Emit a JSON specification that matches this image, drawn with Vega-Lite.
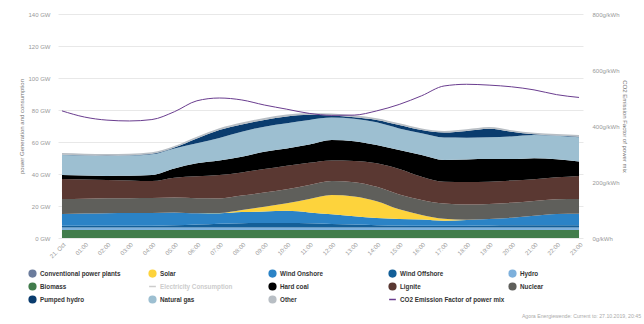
{
  "$schema": "https://vega.github.io/schema/vega-lite/v6.json",
  "width": 525,
  "height": 224,
  "autosize": {"type": "none"},
  "padding": {"left": 58, "top": 14, "right": 61, "bottom": 86},
  "config": {"font": "Liberation Sans", "view": {"stroke": null}, "axisX": {"labelOverlap": false, "labelBound": false, "labelFlush": false}},
  "title": {"text": "Agora Energiewende: Current to: 27.10.2019, 20:45", "orient": "bottom", "anchor": "end", "frame": "bounds", "fontSize": 5.2, "fontWeight": "normal", "color": "#aaaaaa", "offset": 8, "dx": 14},
  "datasets": {
    "rank": [
      {"s": "Biomass", "k": 1}, {"s": "Hydro", "k": 2}, {"s": "Wind Offshore", "k": 3}, {"s": "Wind Onshore", "k": 4},
      {"s": "Solar", "k": 5}, {"s": "Nuclear", "k": 6}, {"s": "Lignite", "k": 7}, {"s": "Hard coal", "k": 8},
      {"s": "Natural gas", "k": 9}, {"s": "Pumped hydro", "k": 10}, {"s": "Other", "k": 11}
    ],
    "co2": [
      {"h": 0, "co2": 454}, {"h": 1, "co2": 432}, {"h": 2, "co2": 421}, {"h": 3, "co2": 418}, {"h": 4, "co2": 423}, {"h": 5, "co2": 451},
      {"h": 6, "co2": 490}, {"h": 7, "co2": 500}, {"h": 8, "co2": 493}, {"h": 9, "co2": 475}, {"h": 10, "co2": 460}, {"h": 11, "co2": 445},
      {"h": 12, "co2": 438}, {"h": 13, "co2": 439}, {"h": 14, "co2": 454}, {"h": 15, "co2": 477}, {"h": 16, "co2": 508}, {"h": 17, "co2": 543},
      {"h": 18, "co2": 549}, {"h": 19, "co2": 546}, {"h": 20, "co2": 540}, {"h": 21, "co2": 529}, {"h": 22, "co2": 512}, {"h": 23, "co2": 502}
    ],
    "gen": [
      {"h":0,"s":"Biomass","v":5.0},{"h":1,"s":"Biomass","v":5.0},{"h":2,"s":"Biomass","v":5.0},{"h":3,"s":"Biomass","v":5.0},{"h":4,"s":"Biomass","v":5.0},{"h":5,"s":"Biomass","v":5.0},{"h":6,"s":"Biomass","v":5.0},{"h":7,"s":"Biomass","v":5.0},{"h":8,"s":"Biomass","v":5.0},{"h":9,"s":"Biomass","v":5.0},{"h":10,"s":"Biomass","v":5.0},{"h":11,"s":"Biomass","v":5.0},{"h":12,"s":"Biomass","v":5.0},{"h":13,"s":"Biomass","v":5.0},{"h":14,"s":"Biomass","v":5.0},{"h":15,"s":"Biomass","v":5.0},{"h":16,"s":"Biomass","v":5.0},{"h":17,"s":"Biomass","v":5.0},{"h":18,"s":"Biomass","v":5.0},{"h":19,"s":"Biomass","v":5.0},{"h":20,"s":"Biomass","v":5.0},{"h":21,"s":"Biomass","v":5.0},{"h":22,"s":"Biomass","v":5.0},{"h":23,"s":"Biomass","v":5.0},
      {"h":0,"s":"Hydro","v":1.6},{"h":1,"s":"Hydro","v":1.6},{"h":2,"s":"Hydro","v":1.6},{"h":3,"s":"Hydro","v":1.6},{"h":4,"s":"Hydro","v":1.6},{"h":5,"s":"Hydro","v":1.6},{"h":6,"s":"Hydro","v":1.6},{"h":7,"s":"Hydro","v":1.6},{"h":8,"s":"Hydro","v":1.6},{"h":9,"s":"Hydro","v":1.6},{"h":10,"s":"Hydro","v":1.6},{"h":11,"s":"Hydro","v":1.6},{"h":12,"s":"Hydro","v":1.6},{"h":13,"s":"Hydro","v":1.6},{"h":14,"s":"Hydro","v":1.6},{"h":15,"s":"Hydro","v":1.6},{"h":16,"s":"Hydro","v":1.6},{"h":17,"s":"Hydro","v":1.6},{"h":18,"s":"Hydro","v":1.6},{"h":19,"s":"Hydro","v":1.6},{"h":20,"s":"Hydro","v":1.6},{"h":21,"s":"Hydro","v":1.6},{"h":22,"s":"Hydro","v":1.6},{"h":23,"s":"Hydro","v":1.6},
      {"h":0,"s":"Wind Offshore","v":1.0},{"h":1,"s":"Wind Offshore","v":1.0},{"h":2,"s":"Wind Offshore","v":1.0},{"h":3,"s":"Wind Offshore","v":1.0},{"h":4,"s":"Wind Offshore","v":1.1},{"h":5,"s":"Wind Offshore","v":1.3},{"h":6,"s":"Wind Offshore","v":1.8},{"h":7,"s":"Wind Offshore","v":2.3},{"h":8,"s":"Wind Offshore","v":2.6},{"h":9,"s":"Wind Offshore","v":2.8},{"h":10,"s":"Wind Offshore","v":2.8},{"h":11,"s":"Wind Offshore","v":2.6},{"h":12,"s":"Wind Offshore","v":2.2},{"h":13,"s":"Wind Offshore","v":1.8},{"h":14,"s":"Wind Offshore","v":1.4},{"h":15,"s":"Wind Offshore","v":1.2},{"h":16,"s":"Wind Offshore","v":1.0},{"h":17,"s":"Wind Offshore","v":1.0},{"h":18,"s":"Wind Offshore","v":1.1},{"h":19,"s":"Wind Offshore","v":1.2},{"h":20,"s":"Wind Offshore","v":1.3},{"h":21,"s":"Wind Offshore","v":1.3},{"h":22,"s":"Wind Offshore","v":1.3},{"h":23,"s":"Wind Offshore","v":1.3},
      {"h":0,"s":"Wind Onshore","v":7.4},{"h":1,"s":"Wind Onshore","v":7.7},{"h":2,"s":"Wind Onshore","v":7.9},{"h":3,"s":"Wind Onshore","v":8.0},{"h":4,"s":"Wind Onshore","v":8.0},{"h":5,"s":"Wind Onshore","v":8.1},{"h":6,"s":"Wind Onshore","v":7.1},{"h":7,"s":"Wind Onshore","v":6.6},{"h":8,"s":"Wind Onshore","v":7.0},{"h":9,"s":"Wind Onshore","v":7.2},{"h":10,"s":"Wind Onshore","v":7.6},{"h":11,"s":"Wind Onshore","v":6.8},{"h":12,"s":"Wind Onshore","v":6.0},{"h":13,"s":"Wind Onshore","v":5.2},{"h":14,"s":"Wind Onshore","v":4.5},{"h":15,"s":"Wind Onshore","v":4.1},{"h":16,"s":"Wind Onshore","v":3.9},{"h":17,"s":"Wind Onshore","v":3.2},{"h":18,"s":"Wind Onshore","v":3.5},{"h":19,"s":"Wind Onshore","v":4.1},{"h":20,"s":"Wind Onshore","v":4.7},{"h":21,"s":"Wind Onshore","v":6.0},{"h":22,"s":"Wind Onshore","v":7.1},{"h":23,"s":"Wind Onshore","v":7.3},
      {"h":0,"s":"Solar","v":0},{"h":1,"s":"Solar","v":0},{"h":2,"s":"Solar","v":0},{"h":3,"s":"Solar","v":0},{"h":4,"s":"Solar","v":0},{"h":5,"s":"Solar","v":0},{"h":6,"s":"Solar","v":0},{"h":7,"s":"Solar","v":0.1},{"h":8,"s":"Solar","v":1.3},{"h":9,"s":"Solar","v":2.9},{"h":10,"s":"Solar","v":4.7},{"h":11,"s":"Solar","v":8.4},{"h":12,"s":"Solar","v":12.1},{"h":13,"s":"Solar","v":12.4},{"h":14,"s":"Solar","v":10.5},{"h":15,"s":"Solar","v":6.0},{"h":16,"s":"Solar","v":2.9},{"h":17,"s":"Solar","v":1.2},{"h":18,"s":"Solar","v":0.2},{"h":19,"s":"Solar","v":0},{"h":20,"s":"Solar","v":0},{"h":21,"s":"Solar","v":0},{"h":22,"s":"Solar","v":0},{"h":23,"s":"Solar","v":0},
      {"h":0,"s":"Nuclear","v":9.3},{"h":1,"s":"Nuclear","v":9.3},{"h":2,"s":"Nuclear","v":9.3},{"h":3,"s":"Nuclear","v":9.3},{"h":4,"s":"Nuclear","v":9.3},{"h":5,"s":"Nuclear","v":9.3},{"h":6,"s":"Nuclear","v":9.3},{"h":7,"s":"Nuclear","v":9.1},{"h":8,"s":"Nuclear","v":9.0},{"h":9,"s":"Nuclear","v":8.9},{"h":10,"s":"Nuclear","v":8.8},{"h":11,"s":"Nuclear","v":8.8},{"h":12,"s":"Nuclear","v":8.8},{"h":13,"s":"Nuclear","v":8.9},{"h":14,"s":"Nuclear","v":9.0},{"h":15,"s":"Nuclear","v":9.3},{"h":16,"s":"Nuclear","v":9.4},{"h":17,"s":"Nuclear","v":9.5},{"h":18,"s":"Nuclear","v":9.5},{"h":19,"s":"Nuclear","v":9.4},{"h":20,"s":"Nuclear","v":9.4},{"h":21,"s":"Nuclear","v":9.3},{"h":22,"s":"Nuclear","v":9.2},{"h":23,"s":"Nuclear","v":9.2},
      {"h":0,"s":"Lignite","v":12.6},{"h":1,"s":"Lignite","v":12.0},{"h":2,"s":"Lignite","v":11.5},{"h":3,"s":"Lignite","v":11.1},{"h":4,"s":"Lignite","v":10.6},{"h":5,"s":"Lignite","v":12.4},{"h":6,"s":"Lignite","v":13.8},{"h":7,"s":"Lignite","v":14.7},{"h":8,"s":"Lignite","v":14.5},{"h":9,"s":"Lignite","v":14.7},{"h":10,"s":"Lignite","v":14.7},{"h":11,"s":"Lignite","v":13.8},{"h":12,"s":"Lignite","v":12.8},{"h":13,"s":"Lignite","v":13.3},{"h":14,"s":"Lignite","v":14.7},{"h":15,"s":"Lignite","v":15.9},{"h":16,"s":"Lignite","v":14.5},{"h":17,"s":"Lignite","v":13.7},{"h":18,"s":"Lignite","v":14.1},{"h":19,"s":"Lignite","v":13.9},{"h":20,"s":"Lignite","v":13.9},{"h":21,"s":"Lignite","v":13.5},{"h":22,"s":"Lignite","v":13.7},{"h":23,"s":"Lignite","v":14.4},
      {"h":0,"s":"Hard coal","v":2.5},{"h":1,"s":"Hard coal","v":2.4},{"h":2,"s":"Hard coal","v":2.5},{"h":3,"s":"Hard coal","v":2.9},{"h":4,"s":"Hard coal","v":3.8},{"h":5,"s":"Hard coal","v":5.8},{"h":6,"s":"Hard coal","v":8.1},{"h":7,"s":"Hard coal","v":9.0},{"h":8,"s":"Hard coal","v":9.8},{"h":9,"s":"Hard coal","v":10.8},{"h":10,"s":"Hard coal","v":10.8},{"h":11,"s":"Hard coal","v":11.5},{"h":12,"s":"Hard coal","v":12.8},{"h":13,"s":"Hard coal","v":12.3},{"h":14,"s":"Hard coal","v":11.4},{"h":15,"s":"Hard coal","v":11.9},{"h":16,"s":"Hard coal","v":13.6},{"h":17,"s":"Hard coal","v":13.6},{"h":18,"s":"Hard coal","v":14.1},{"h":19,"s":"Hard coal","v":14.1},{"h":20,"s":"Hard coal","v":13.4},{"h":21,"s":"Hard coal","v":13.1},{"h":22,"s":"Hard coal","v":11.3},{"h":23,"s":"Hard coal","v":9.0},
      {"h":0,"s":"Natural gas","v":12.5},{"h":1,"s":"Natural gas","v":12.5},{"h":2,"s":"Natural gas","v":12.5},{"h":3,"s":"Natural gas","v":12.6},{"h":4,"s":"Natural gas","v":12.9},{"h":5,"s":"Natural gas","v":12.5},{"h":6,"s":"Natural gas","v":12.5},{"h":7,"s":"Natural gas","v":14.1},{"h":8,"s":"Natural gas","v":15.6},{"h":9,"s":"Natural gas","v":15.7},{"h":10,"s":"Natural gas","v":15.7},{"h":11,"s":"Natural gas","v":15.3},{"h":12,"s":"Natural gas","v":14.0},{"h":13,"s":"Natural gas","v":14.1},{"h":14,"s":"Natural gas","v":14.2},{"h":15,"s":"Natural gas","v":13.5},{"h":16,"s":"Natural gas","v":13.5},{"h":17,"s":"Natural gas","v":14.0},{"h":18,"s":"Natural gas","v":13.6},{"h":19,"s":"Natural gas","v":13.7},{"h":20,"s":"Natural gas","v":14.2},{"h":21,"s":"Natural gas","v":14.6},{"h":22,"s":"Natural gas","v":14.7},{"h":23,"s":"Natural gas","v":15.2},
      {"h":0,"s":"Pumped hydro","v":0.2},{"h":1,"s":"Pumped hydro","v":0.2},{"h":2,"s":"Pumped hydro","v":0.2},{"h":3,"s":"Pumped hydro","v":0.2},{"h":4,"s":"Pumped hydro","v":0.3},{"h":5,"s":"Pumped hydro","v":0.5},{"h":6,"s":"Pumped hydro","v":3.0},{"h":7,"s":"Pumped hydro","v":5.0},{"h":8,"s":"Pumped hydro","v":4.6},{"h":9,"s":"Pumped hydro","v":4.2},{"h":10,"s":"Pumped hydro","v":4.3},{"h":11,"s":"Pumped hydro","v":3.2},{"h":12,"s":"Pumped hydro","v":1.3},{"h":13,"s":"Pumped hydro","v":0.9},{"h":14,"s":"Pumped hydro","v":1.5},{"h":15,"s":"Pumped hydro","v":2.1},{"h":16,"s":"Pumped hydro","v":2.1},{"h":17,"s":"Pumped hydro","v":3.1},{"h":18,"s":"Pumped hydro","v":4.2},{"h":19,"s":"Pumped hydro","v":5.3},{"h":20,"s":"Pumped hydro","v":2.9},{"h":21,"s":"Pumped hydro","v":0.4},{"h":22,"s":"Pumped hydro","v":0.1},{"h":23,"s":"Pumped hydro","v":0.3},
      {"h":0,"s":"Other","v":1.0},{"h":1,"s":"Other","v":1.0},{"h":2,"s":"Other","v":1.0},{"h":3,"s":"Other","v":1.0},{"h":4,"s":"Other","v":1.0},{"h":5,"s":"Other","v":1.0},{"h":6,"s":"Other","v":1.1},{"h":7,"s":"Other","v":1.1},{"h":8,"s":"Other","v":1.2},{"h":9,"s":"Other","v":1.2},{"h":10,"s":"Other","v":1.2},{"h":11,"s":"Other","v":1.2},{"h":12,"s":"Other","v":1.2},{"h":13,"s":"Other","v":1.2},{"h":14,"s":"Other","v":1.1},{"h":15,"s":"Other","v":1.1},{"h":16,"s":"Other","v":1.0},{"h":17,"s":"Other","v":1.0},{"h":18,"s":"Other","v":1.0},{"h":19,"s":"Other","v":1.0},{"h":20,"s":"Other","v":1.0},{"h":21,"s":"Other","v":1.0},{"h":22,"s":"Other","v":1.0},{"h":23,"s":"Other","v":1.0}
    ]
  },
  "layer": [
    {
      "data": {"name": "gen"},
      "transform": [{"lookup": "s", "from": {"data": {"name": "rank"}, "key": "s", "fields": ["k"]}}],
      "mark": {"type": "area", "interpolate": "monotone"},
      "encoding": {
        "x": {
          "field": "h", "type": "quantitative",
          "scale": {"domain": [-0.177, 23.177], "nice": false, "zero": false},
          "axis": {
            "values": [0,1,2,3,4,5,6,7,8,9,10,11,12,13,14,15,16,17,18,19,20,21,22,23],
            "labelExpr": "datum.value === 0 ? '21. Oct' : (datum.value < 10 ? '0' + datum.value : '' + datum.value) + ':00'",
            "labelAngle": -45, "labelFontSize": 6, "labelColor": "#999999", "labelPadding": 3, "labelOverlap": false,
            "grid": false, "domain": false, "ticks": false, "title": null
          }
        },
        "y": {
          "field": "v", "type": "quantitative", "stack": "zero",
          "scale": {"domain": [0, 140], "nice": false},
          "axis": {
            "values": [0,20,40,60,80,100,120,140],
            "labelExpr": "datum.value + ' GW'",
            "grid": true, "gridColor": "#e8e8e8", "domain": false, "ticks": false,
            "labelFontSize": 6, "labelColor": "#999999", "labelPadding": 8,
            "title": "power Generation and consumption", "titleFontSize": 6, "titleFontWeight": "normal", "titleColor": "#777777", "titlePadding": 3
          }
        },
        "color": {
          "field": "s", "type": "nominal",
          "scale": {
            "domain": ["Conventional power plants","Solar","Wind Onshore","Wind Offshore","Hydro","Biomass","Electricity Consumption","Hard coal","Lignite","Nuclear","Pumped hydro","Natural gas","Other","CO2 Emission Factor of power mix"],
            "range": ["#6b7c9c","#fdd33c","#2b83c6","#135f98","#7db0dc","#427c4c","#cccccc","#000000","#5a3832","#5f5f5b","#0a3c6e","#9dbfd1","#b8bec4","#6a3d8f"]
          },
          "legend": {
            "title": null, "orient": "none", "legendX": -30, "legendY": 255, "direction": "horizontal",
            "columns": 5, "gridAlign": "all", "columnPadding": 1, "rowPadding": 0, "padding": 0,
            "symbolSize": 45, "symbolType": "circle",
            "labelFontSize": 6.3, "labelFontWeight": "bold", "labelColor": "#333333", "labelOffset": 3, "labelLimit": 200,
            "encode": {
              "symbols": {"update": {
                "shape": [{"test": "datum.value === 'CO2 Emission Factor of power mix' || datum.value === 'Electricity Consumption'", "value": "stroke"}, {"value": "circle"}],
                "fill": [{"test": "datum.value === 'CO2 Emission Factor of power mix' || datum.value === 'Electricity Consumption'", "value": "transparent"}, {"scale": "color", "field": "value"}],
                "stroke": [{"test": "datum.value === 'CO2 Emission Factor of power mix' || datum.value === 'Electricity Consumption'", "scale": "color", "field": "value"}, {"value": "transparent"}],
                "strokeWidth": {"value": 1.5},
                "opacity": {"value": 1}
              }},
              "labels": {"update": {
                "fill": [{"test": "datum.value === 'Electricity Consumption'", "value": "#cccccc"}, {"value": "#333333"}]
              }}
            }
          }
        },
        "order": {"field": "k", "type": "quantitative"}
      }
    },
    {
      "data": {"name": "co2"},
      "mark": {"type": "line", "interpolate": "monotone", "strokeWidth": 1},
      "encoding": {
        "x": {
          "field": "h", "type": "quantitative",
          "axis": {
            "values": [0,1,2,3,4,5,6,7,8,9,10,11,12,13,14,15,16,17,18,19,20,21,22,23],
            "labelExpr": "datum.value === 0 ? '21. Oct' : (datum.value < 10 ? '0' + datum.value : '' + datum.value) + ':00'",
            "labelAngle": -45, "labelFontSize": 6, "labelColor": "#999999", "labelPadding": 3, "labelOverlap": false,
            "grid": false, "domain": false, "ticks": false, "title": null
          }
        },
        "y": {
          "field": "co2", "type": "quantitative",
          "scale": {"domain": [0, 800], "nice": false},
          "axis": {
            "orient": "right",
            "values": [0,200,400,600,800],
            "labelExpr": "datum.value + 'g/kWh'",
            "grid": false, "domain": false, "ticks": false,
            "labelFontSize": 6, "labelColor": "#999999", "labelPadding": 9,
            "title": "CO2 Emission Factor of power mix", "titleFontSize": 6, "titleFontWeight": "normal", "titleColor": "#777777", "titlePadding": 2
          }
        },
        "color": {"datum": "CO2 Emission Factor of power mix", "type": "nominal"}
      }
    }
  ],
  "resolve": {"scale": {"y": "independent"}}
}
